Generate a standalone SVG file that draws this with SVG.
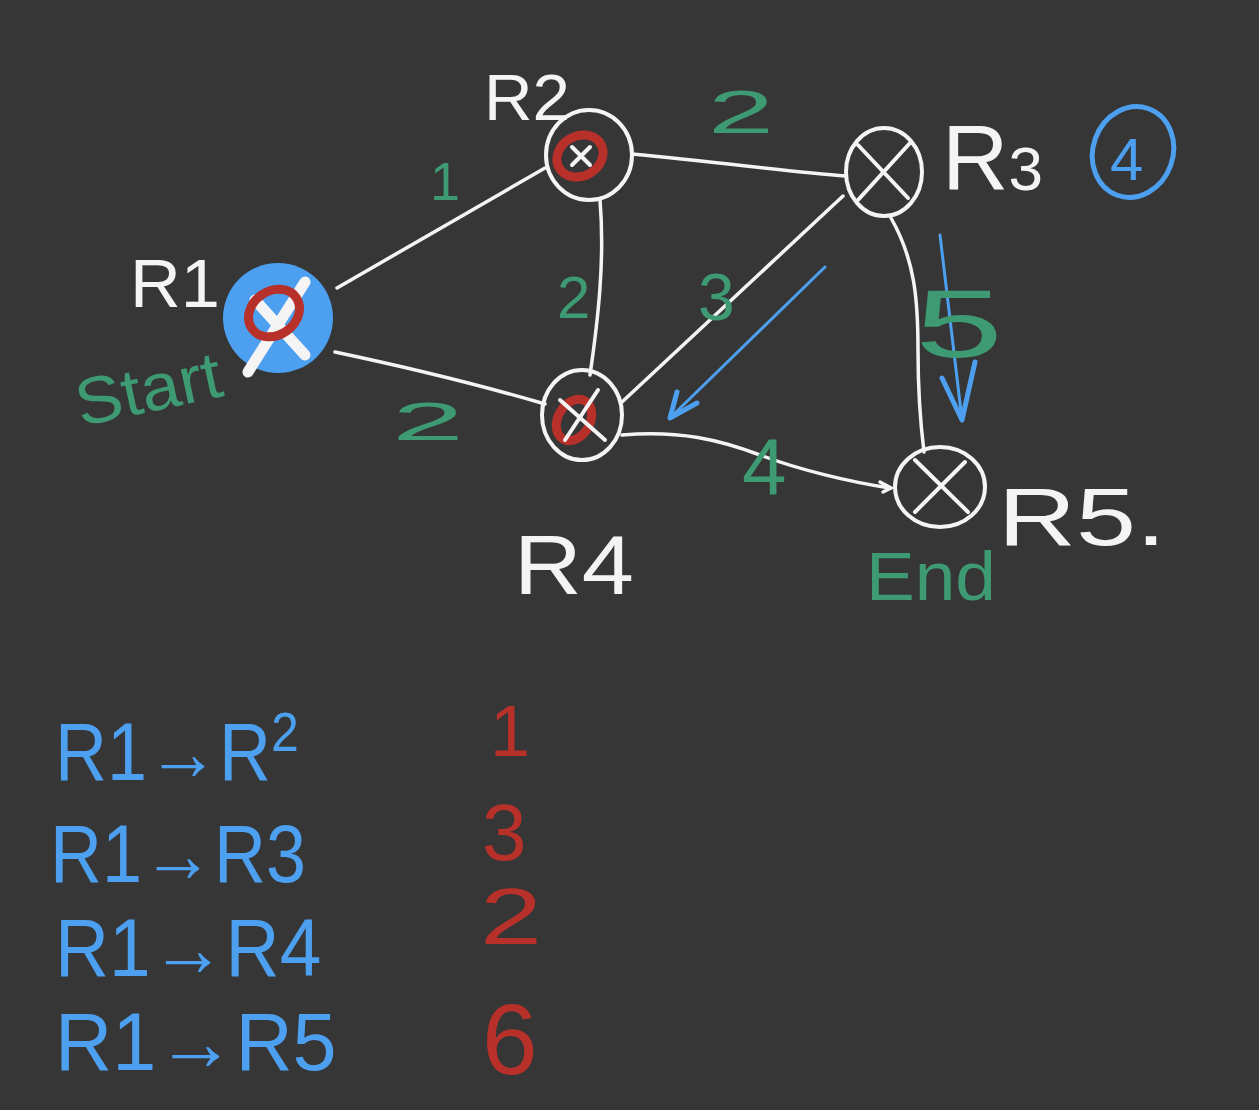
<svg xmlns="http://www.w3.org/2000/svg" width="1259" height="1110" viewBox="0 0 1259 1110">
<defs>
<style>
.bg{fill:#363636}
.edge{fill:none;stroke:#f4f4f4;stroke-width:3.5;stroke-linecap:round}
.ring{fill:none;stroke:#f4f4f4;stroke-width:4}
.xw{stroke:#f4f4f4;stroke-width:4;stroke-linecap:round}
.red{fill:none;stroke:#b8302a;stroke-width:9}
.lblw{fill:#f4f4f4;font-family:"Liberation Sans","DejaVu Sans",sans-serif}
.lblg{fill:#3d9a72;font-family:"Liberation Sans","DejaVu Sans",sans-serif}
.lblb{fill:#4d9ff0;font-family:"Liberation Sans","DejaVu Sans",sans-serif}
.lblr{fill:#b8302a;font-family:"Liberation Sans","DejaVu Sans",sans-serif}
.barrow{fill:none;stroke:#4d9ff0;stroke-width:3;stroke-linecap:round;stroke-linejoin:round}
</style>
</defs>
<rect class="bg" x="0" y="0" width="1259" height="1110"/>
<g id="connectors">
<path class="edge" d="M337 288 L545 168"/>
<path class="edge" d="M335 352 C420 370 480 385 545 404"/>
<path class="edge" d="M632 154 C720 162 790 172 846 176"/>
<path class="edge" d="M600 200 C605 260 598 320 590 375"/>
<path class="edge" d="M843 196 L622 402"/>
<path class="edge" d="M891 218 C915 260 918 300 918 350 C918 390 920 420 924 452"/>
<path class="edge" d="M622 435 C680 430 720 440 760 455 C800 470 850 482 890 488"/>
<path class="edge" d="M880 482 L891 488 L883 492"/>
<path class="barrow" d="M825 267 L672 416"/>
<path class="barrow" d="M677 392 L670 418 L697 403" style="stroke-width:5"/>
<path class="barrow" d="M940 235 C948 300 955 360 962 420"/>
<path class="barrow" d="M942 378 L962 420 L975 362" style="stroke-width:5"/>
</g>
<g id="R1">
<circle cx="278" cy="318" r="55" fill="#4d9ff0"/>
<path class="xw" d="M255 300 L305 355 M305 282 L248 372" style="stroke-width:11"/>
<ellipse class="red" cx="274" cy="313" rx="27" ry="22" transform="rotate(-35 274 313)"/>
<text class="lblw" x="130" y="307" font-size="68" textLength="90" lengthAdjust="spacingAndGlyphs">R1</text>
<text class="lblg" x="72" y="412" font-size="66" textLength="148" lengthAdjust="spacingAndGlyphs" transform="rotate(-12 145 378)">Start</text>
</g>
<g id="R2">
<ellipse class="ring" cx="589" cy="155" rx="43" ry="45"/>
<ellipse class="red" cx="580" cy="156" rx="24" ry="20" transform="rotate(-30 580 156)"/>
<path class="xw" d="M572 147 L590 165 M590 147 L572 165"/>
<text class="lblw" x="484" y="120" font-size="64" textLength="86" lengthAdjust="spacingAndGlyphs">R2</text>
<text class="lblg" x="430" y="200" font-size="54">1</text>
</g>
<g id="R3">
<ellipse class="ring" cx="884" cy="172" rx="38" ry="44"/>
<path class="xw" d="M858 145 L908 198 M910 143 L858 200"/>
<text class="lblw" x="942" y="190" font-size="92">R<tspan font-size="62">3</tspan></text>
<ellipse cx="1133" cy="152" rx="40" ry="46" fill="none" stroke="#4d9ff0" stroke-width="5" transform="rotate(20 1133 152)"/>
<text class="lblb" x="1110" y="180" font-size="60">4</text>
</g>
<g id="R4">
<ellipse class="ring" cx="582" cy="415" rx="40" ry="45"/>
<ellipse class="red" cx="574" cy="420" rx="16" ry="22" transform="rotate(30 574 420)"/>
<path class="xw" d="M560 400 L605 440 M598 390 L565 440"/>
<text class="lblw" x="514" y="594" font-size="84" textLength="120" lengthAdjust="spacingAndGlyphs">R4</text>
</g>
<g id="R5">
<ellipse class="ring" cx="940" cy="487" rx="45" ry="40"/>
<path class="xw" d="M915 460 L968 512 M965 462 L915 512"/>
<text class="lblw" x="998" y="545" font-size="82" textLength="168" lengthAdjust="spacingAndGlyphs">R5.</text>
<text class="lblg" x="866" y="600" font-size="68" textLength="130" lengthAdjust="spacingAndGlyphs">End</text>
</g>
<g id="edge-labels">
<text class="lblg" x="708" y="133" font-size="62" textLength="66" lengthAdjust="spacingAndGlyphs">2</text>
<text class="lblg" x="557" y="318" font-size="60">2</text>
<text class="lblg" x="698" y="320" font-size="66">3</text>
<text class="lblg" x="392" y="440" font-size="54" textLength="72" lengthAdjust="spacingAndGlyphs">2</text>
<text class="lblg" x="742" y="494" font-size="80">4</text>
<text class="lblg" x="915" y="357" font-size="96" textLength="88" lengthAdjust="spacingAndGlyphs">5</text>
</g>
<g id="table">
<text class="lblb" font-size="72" transform="translate(55 780) scale(1 1.12)">R1→R<tspan font-size="50" dy="-26">2</tspan></text>
<text class="lblb" font-size="72" transform="translate(50 882) scale(1 1.12)">R1→R3</text>
<text class="lblb" font-size="72" transform="translate(55 976) scale(1.04 1.12)">R1→R4</text>
<text class="lblb" font-size="72" transform="translate(55 1070) scale(1.1 1.12)">R1→R5</text>
<text class="lblr" x="490" y="756" font-size="72">1</text>
<text class="lblr" x="482" y="860" font-size="80">3</text>
<text class="lblr" x="480" y="944" font-size="80" textLength="62" lengthAdjust="spacingAndGlyphs">2</text>
<text class="lblr" x="482" y="1074" font-size="100">6</text>
</g>
</svg>
